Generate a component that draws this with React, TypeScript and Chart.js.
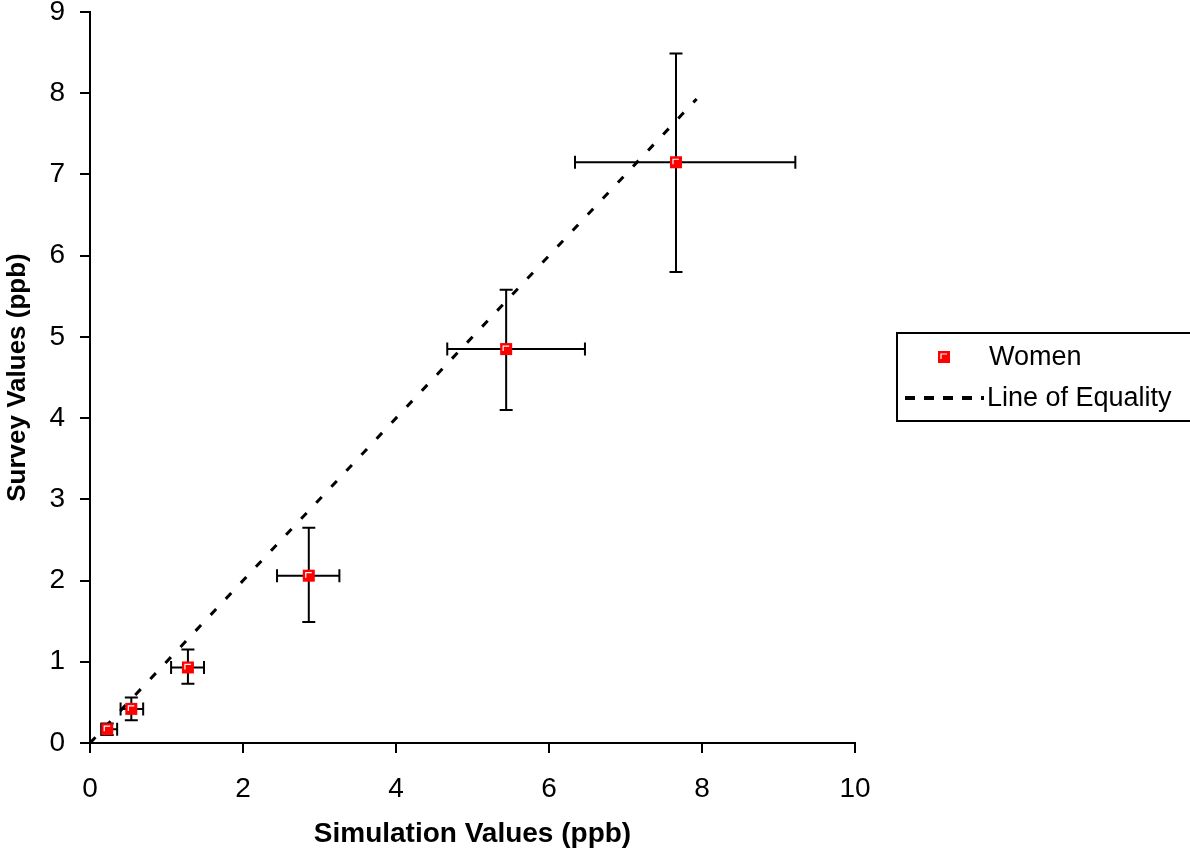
import React, { useEffect, useRef } from "react";
import { Chart, registerables } from "chart.js";

Chart.register(...registerables);

// Women: simulation (x) vs survey (y), with error ranges
const simValues = [0.225, 0.54, 1.28, 2.86, 5.44, 7.66];
const surveyValues = [0.17, 0.42, 0.93, 2.06, 4.85, 7.15];
const simLow = [0.146, 0.4, 1.06, 2.445, 4.67, 6.34];
const simHigh = [0.355, 0.695, 1.49, 3.26, 6.47, 9.22];
const surveyLow = [0.1, 0.28, 0.73, 1.49, 4.1, 5.8];
const surveyHigh = [0.24, 0.56, 1.15, 2.65, 5.58, 8.49];

// Line of equality endpoints
const equalityX = [0, 7.93];
const equalityY = [0, 7.93];

const xTicks = [0, 2, 4, 6, 8, 10];
const yTicks = [0, 1, 2, 3, 4, 5, 6, 7, 8, 9];

const seriesNames = ["Women", "Line of Equality"];
const xTitle = "Simulation Values (ppb)";
const yTitle = "Survey Values (ppb)";

const FONT = "'Liberation Sans', Arial, sans-serif";
const TICK_FS = 28;

function drawMarker(ctx: CanvasRenderingContext2D, x: number, y: number) {
  ctx.save();
  ctx.fillStyle = "#ff0000";
  ctx.fillRect(x - 6, y - 6, 12, 12);
  ctx.strokeStyle = "#ffffff";
  ctx.lineWidth = 1.2;
  ctx.beginPath();
  ctx.moveTo(x - 3, y + 2);
  ctx.lineTo(x - 3, y - 3);
  ctx.lineTo(x + 3, y - 3);
  ctx.stroke();
  ctx.restore();
}

const errorBarPlugin = {
  id: "errorBars",
  beforeDatasetsDraw(chart: any) {
    const { ctx, scales } = chart;
    const xs = scales.x;
    const ys = scales.y;
    ctx.save();
    ctx.strokeStyle = "#000";
    ctx.lineWidth = 2;
    const cap = 6.5;
    for (let i = 0; i < simValues.length; i++) {
      const px = xs.getPixelForValue(simValues[i]);
      const py = ys.getPixelForValue(surveyValues[i]);
      const x1 = xs.getPixelForValue(simLow[i]);
      const x2 = xs.getPixelForValue(simHigh[i]);
      const y1 = ys.getPixelForValue(surveyLow[i]);
      const y2 = ys.getPixelForValue(surveyHigh[i]);
      ctx.beginPath();
      ctx.moveTo(x1, py);
      ctx.lineTo(x2, py);
      ctx.moveTo(x1, py - cap);
      ctx.lineTo(x1, py + cap);
      ctx.moveTo(x2, py - cap);
      ctx.lineTo(x2, py + cap);
      ctx.moveTo(px, y1);
      ctx.lineTo(px, y2);
      ctx.moveTo(px - cap, y1);
      ctx.lineTo(px + cap, y1);
      ctx.moveTo(px - cap, y2);
      ctx.lineTo(px + cap, y2);
      ctx.stroke();
    }
    ctx.restore();
  },
  afterDatasetsDraw(chart: any) {
    const { ctx, scales } = chart;
    for (let i = 0; i < simValues.length; i++) {
      drawMarker(
        ctx,
        scales.x.getPixelForValue(simValues[i]),
        scales.y.getPixelForValue(surveyValues[i])
      );
    }
  },
};

const legendPlugin = {
  id: "boxLegend",
  afterDraw(chart: any) {
    const ctx: CanvasRenderingContext2D = chart.ctx;
    ctx.save();
    ctx.strokeStyle = "#000";
    ctx.lineWidth = 2;
    ctx.strokeRect(897, 333, 310, 88);
    drawMarker(ctx, 944, 357);
    ctx.fillStyle = "#000";
    ctx.font = `27px ${FONT}`;
    ctx.textBaseline = "middle";
    ctx.textAlign = "left";
    ctx.fillText(seriesNames[0], 989, 358);
    ctx.beginPath();
    ctx.setLineDash([10, 9]);
    ctx.lineWidth = 4;
    ctx.moveTo(905, 398);
    ctx.lineTo(984, 398);
    ctx.stroke();
    ctx.setLineDash([]);
    ctx.fillText(seriesNames[1], 987, 399);
    ctx.restore();
  },
};

export default function App() {
  const ref = useRef<HTMLCanvasElement | null>(null);
  useEffect(() => {
    if (!ref.current) return;
    const chart = new Chart(ref.current, {
      type: "scatter",
      data: {
        datasets: [
          {
            label: seriesNames[0],
            data: simValues.map((x, i) => ({ x, y: surveyValues[i] })),
            pointStyle: "rect",
            pointRadius: 0,
            backgroundColor: "#ff0000",
            borderColor: "#ff0000",
            showLine: false,
          },
          {
            label: seriesNames[1],
            data: equalityX.map((x, i) => ({ x, y: equalityY[i] })),
            showLine: true,
            pointRadius: 0,
            borderColor: "#000",
            borderWidth: 3,
            borderDash: [8, 14],
            fill: false,
          },
        ],
      },
      options: {
        responsive: false,
        animation: false,
        events: [],
        layout: { padding: { left: 0, top: 12, right: 335, bottom: 0 } },
        plugins: {
          legend: { display: false },
          tooltip: { enabled: false },
        },
        scales: {
          x: {
            type: "linear",
            min: 0,
            max: 10,
            afterBuildTicks: (s: any) => {
              s.ticks = xTicks.map((v) => ({ value: v }));
            },
            afterFit: (s: any) => {
              s.height = 109;
              s.paddingLeft = 0;
              s.paddingRight = 0;
            },
            ticks: {
              color: "#000",
              font: { family: FONT, size: TICK_FS },
              padding: 19,
              maxRotation: 0,
            },
            grid: {
              display: true,
              drawOnChartArea: false,
              drawTicks: true,
              tickLength: 10,
              color: "#000",
              lineWidth: 2,
            },
            border: { display: true, color: "#000", width: 2 },
            title: {
              display: true,
              text: xTitle,
              color: "#000",
              font: { family: FONT, size: 28, weight: "bold" },
              padding: { top: 0, bottom: 1 },
            },
          },
          y: {
            type: "linear",
            min: 0,
            max: 9,
            afterBuildTicks: (s: any) => {
              s.ticks = yTicks.map((v) => ({ value: v }));
            },
            afterFit: (s: any) => {
              s.width = 90;
              s.paddingTop = 0;
              s.paddingBottom = 0;
            },
            ticks: {
              color: "#000",
              font: { family: FONT, size: TICK_FS },
              padding: 15,
            },
            grid: {
              display: true,
              drawOnChartArea: false,
              drawTicks: true,
              tickLength: 10,
              color: "#000",
              lineWidth: 2,
            },
            border: { display: true, color: "#000", width: 2 },
            title: {
              display: true,
              text: yTitle,
              color: "#000",
              font: { family: FONT, size: 26, weight: "bold" },
              padding: { top: 2, bottom: 0 },
            },
          },
        },
      },
      plugins: [errorBarPlugin, legendPlugin],
    } as any);
    return () => chart.destroy();
  }, []);
  return (
    <div style={{ position: "absolute", left: 0, top: 0, width: 1190, height: 852, background: "#fff" }}>
      <canvas ref={ref} width={1190} height={852} style={{ display: "block" }} />
    </div>
  );
}
